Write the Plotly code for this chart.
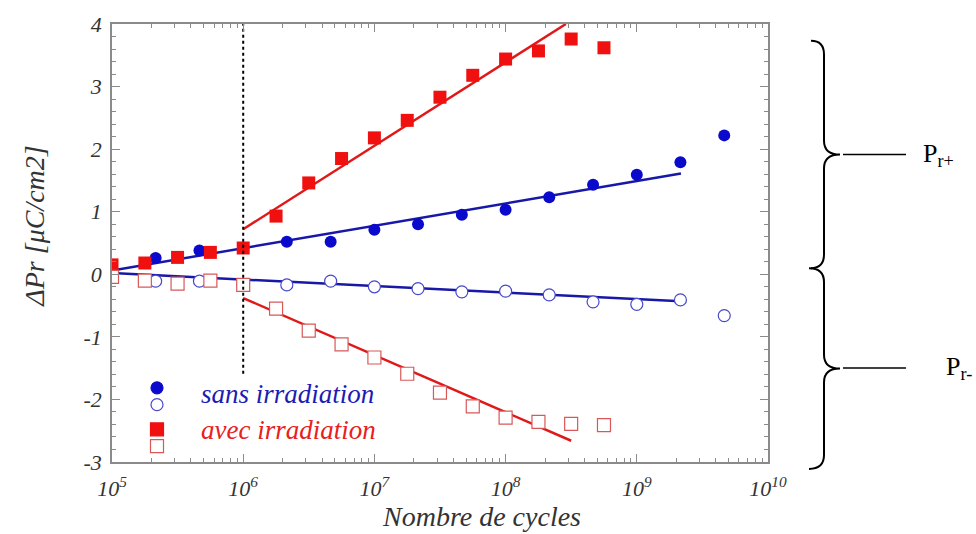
import plotly.graph_objects as go

# Number of cycles (quarter-decade steps for the irradiated sample, third-decade for the reference)
cycles_avec = [1.0e5, 1.78e5, 3.16e5, 5.62e5, 1.0e6, 1.78e6, 3.16e6, 5.62e6,
               1.0e7, 1.78e7, 3.16e7, 5.62e7, 1.0e8, 1.78e8, 3.16e8, 5.62e8]
cycles_sans_plus = [2.15e5, 4.64e5, 1.0e6, 2.15e6, 4.64e6, 1.0e7, 2.15e7,
                    4.64e7, 1.0e8, 2.15e8, 4.64e8, 1.0e9, 2.15e9, 4.64e9]
cycles_sans_minus = [1.0e5, 2.15e5, 4.64e5, 1.0e6, 2.15e6, 4.64e6, 1.0e7, 2.15e7,
                     4.64e7, 1.0e8, 2.15e8, 4.64e8, 1.0e9, 2.15e9, 4.64e9]

# Delta Pr (uC/cm2)
pr_plus_avec = [0.15, 0.18, 0.27, 0.35, 0.42, 0.93, 1.46, 1.85,
                2.18, 2.46, 2.83, 3.18, 3.44, 3.57, 3.76, 3.62]
pr_minus_avec = [-0.04, -0.10, -0.15, -0.10, -0.17, -0.55, -0.90, -1.12,
                 -1.33, -1.59, -1.89, -2.11, -2.29, -2.36, -2.39, -2.41]
pr_plus_sans = [0.26, 0.38, 0.42, 0.52, 0.52, 0.71, 0.80,
                0.95, 1.03, 1.23, 1.43, 1.59, 1.79, 2.22]
pr_minus_sans = [-0.04, -0.11, -0.11, -0.17, -0.17, -0.11, -0.20, -0.23,
                 -0.28, -0.27, -0.33, -0.44, -0.48, -0.41, -0.66]

# Linear fits in log(N)
fit_plus_avec_x, fit_plus_avec_y = [1.0e6, 2.88e8], [0.72, 4.0]
fit_minus_avec_x, fit_minus_avec_y = [1.0e6, 3.16e8], [-0.38, -2.66]
fit_plus_sans_x, fit_plus_sans_y = [1.0e5, 2.17e9], [0.06, 1.61]
fit_minus_sans_x, fit_minus_sans_y = [1.0e5, 2.17e9], [0.02, -0.43]

# Start of irradiation
seuil_x, seuil_y = [1.0e6, 1.0e6], [-1.59, 4.0]

x_tickvals = [1e5, 1e6, 1e7, 1e8, 1e9, 1e10]
x_ticktext = ["10<sup>5</sup>", "10<sup>6</sup>", "10<sup>7</sup>",
              "10<sup>8</sup>", "10<sup>9</sup>", "10<sup>10</sup>"]
y_tickvals = [4, 3, 2, 1, 0, -1, -2, -3]
y_ticktext = ["4", "3", "2", "1", "0", "-1", "-2", "-3"]

RED = "#f01010"
BLUE = "#0a0acc"
RED_LINE = "#e01818"
BLUE_LINE = "#1818a8"
SERIF = "Liberation Serif"

fig = go.Figure()

for fx, fy, col in [(fit_plus_sans_x, fit_plus_sans_y, BLUE_LINE),
                    (fit_minus_sans_x, fit_minus_sans_y, BLUE_LINE),
                    (fit_plus_avec_x, fit_plus_avec_y, RED_LINE),
                    (fit_minus_avec_x, fit_minus_avec_y, RED_LINE)]:
    fig.add_trace(go.Scatter(x=fx, y=fy, mode="lines",
                             line=dict(color=col, width=2.5), hoverinfo="skip"))

fig.add_trace(go.Scatter(x=cycles_sans_plus, y=pr_plus_sans, mode="markers",
                         marker=dict(symbol="circle", size=12, color=BLUE)))
fig.add_trace(go.Scatter(x=cycles_avec, y=pr_plus_avec, mode="markers",
                         marker=dict(symbol="square", size=13, color=RED)))
fig.add_trace(go.Scatter(x=cycles_sans_minus, y=pr_minus_sans, mode="markers",
                         marker=dict(symbol="circle", size=12, color="white",
                                     line=dict(color="#4848c8", width=1.2))))
fig.add_trace(go.Scatter(x=cycles_avec, y=pr_minus_avec, mode="markers",
                         marker=dict(symbol="square", size=13, color="white",
                                     line=dict(color="#d85858", width=1.2))))

fig.add_trace(go.Scatter(x=seuil_x, y=seuil_y, mode="lines",
                         line=dict(color="black", width=2, dash="dot"),
                         hoverinfo="skip"))

# Plot frame in pixels, used to place the decorations outside the data area
L, R, T, B = 112, 768, 19, 462


def px(x):
    return (x - L) / (R - L)


def py(y):
    return (B - y) / (B - T)


shapes = []

# Hand-made legend glyphs
legend_marks = [("circle", 387, BLUE, BLUE), ("circle", 404, "white", "#4848c8"),
                ("rect", 429, RED, RED), ("rect", 446, "white", "#d85858")]
for kind, yy, fill, edge in legend_marks:
    h = 6 if kind == "circle" else 6.5
    shapes.append(dict(type=kind, xref="paper", yref="paper",
                       xsizemode="pixel", ysizemode="pixel",
                       xanchor=px(157), yanchor=py(yy),
                       x0=-h, x1=h, y0=-h, y1=h,
                       fillcolor=fill, line=dict(color=edge, width=1.2)))


def brace(x_end, x_spine, x_tip, y_top, y_bot, r=14):
    ym = (y_top + y_bot) / 2
    pts = [
        f"M {px(x_end)},{py(y_top)}",
        f"Q {px(x_spine)},{py(y_top)} {px(x_spine)},{py(y_top + r)}",
        f"L {px(x_spine)},{py(ym - r)}",
        f"Q {px(x_spine)},{py(ym)} {px(x_tip)},{py(ym)}",
        f"Q {px(x_spine)},{py(ym)} {px(x_spine)},{py(ym + r)}",
        f"L {px(x_spine)},{py(y_bot - r)}",
        f"Q {px(x_spine)},{py(y_bot)} {px(x_end)},{py(y_bot)}",
    ]
    return dict(type="path", xref="paper", yref="paper", path=" ".join(pts),
                line=dict(color="black", width=2))


shapes.append(brace(811, 824, 840, 36, 266))
shapes.append(brace(809, 824, 840, 266, 469))
for yy in (151, 367):
    shapes.append(dict(type="line", xref="paper", yref="paper",
                       x0=px(843), x1=px(906), y0=py(yy), y1=py(yy),
                       line=dict(color="black", width=1.5)))

annotations = [
    dict(text="sans irradiation", x=px(199), y=py(393), xanchor="left",
         yanchor="middle", showarrow=False,
         font=dict(family=SERIF, size=27, style="italic", color="#1c1cb4")),
    dict(text="avec irradiation", x=px(199), y=py(430), xanchor="left",
         yanchor="middle", showarrow=False,
         font=dict(family=SERIF, size=27, style="italic", color="#e82020")),
    dict(text="P<sub>r+</sub>", x=px(921), y=py(151), xanchor="left",
         yanchor="middle", showarrow=False,
         font=dict(family=SERIF, size=26, color="black")),
    dict(text="P<sub>r-</sub>", x=px(944), y=py(367), xanchor="left",
         yanchor="middle", showarrow=False,
         font=dict(family=SERIF, size=26, color="black")),
    dict(text="ΔPr [μC/cm2]", x=px(35), y=py(224), xanchor="center",
         yanchor="middle", textangle=-90, showarrow=False,
         font=dict(family=SERIF, size=28, style="italic", color="#333333")),
    dict(text="Nombre de cycles", x=px(481), y=py(517), xanchor="center",
         yanchor="middle", showarrow=False,
         font=dict(family=SERIF, size=28, style="italic", color="#333333")),
]
for a in annotations:
    a["xref"] = "paper"
    a["yref"] = "paper"

axis_common = dict(showline=True, linecolor="#8a8a8a", linewidth=1.5,
                   mirror="ticks", ticks="inside", tickcolor="#8a8a8a",
                   ticklen=8, tickwidth=1.2, showgrid=False, zeroline=False,
                   tickfont=dict(family=SERIF, size=22, style="italic",
                                 color="#333333"))

fig.update_layout(
    width=976, height=534,
    margin=dict(l=L, r=976 - R, t=T, b=534 - B),
    paper_bgcolor="white", plot_bgcolor="white",
    showlegend=False,
    shapes=shapes, annotations=annotations,
    xaxis=dict(type="log", range=[5, 10], tickvals=x_tickvals,
               ticktext=x_ticktext, ticklabelstandoff=6,
               minor=dict(ticks="inside", ticklen=4, tickcolor="#8a8a8a",
                          dtick="D1", showgrid=False),
               **axis_common),
    yaxis=dict(range=[-3, 4], tickvals=y_tickvals, ticktext=y_ticktext,
               ticklabelstandoff=4,
               minor=dict(ticks="inside", ticklen=4, tickcolor="#8a8a8a",
                          dtick=0.2, showgrid=False),
               **axis_common),
)

fig.write_html("out.html")
